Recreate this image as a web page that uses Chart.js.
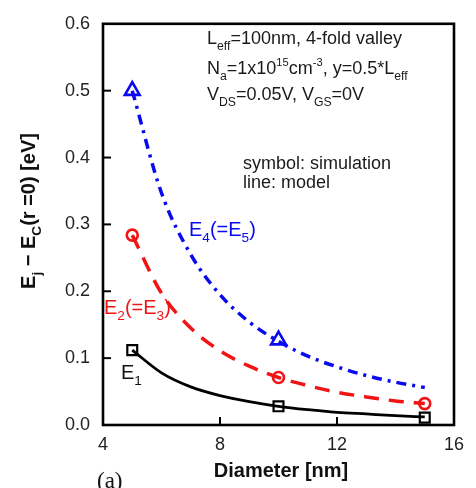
<!DOCTYPE html>
<html>
<head>
<meta charset="utf-8">
<script src="https://cdn.jsdelivr.net/npm/chart.js@4"></script>
<style>
html,body{margin:0;padding:0;background:#fff;}
#wrap{width:476px;height:488px;position:relative;}
</style>
</head>
<body>
<div id="wrap"><canvas id="c" width="476" height="488"></canvas></div>
<script>
// ---- data ----
const simDiameter = [5, 10, 15];
const e1Sim = [0.112, 0.028, 0.011];
const e2Sim = [0.284, 0.071, 0.032];
const e4SimDiameter = [5, 10];
const e4Sim = [0.500, 0.127];
const modelDiameter = [5, 6, 7, 8, 9, 10, 11, 12, 13, 14, 15];
const e1Model = [0.112, 0.078, 0.057, 0.044, 0.035, 0.028, 0.023, 0.019, 0.0165, 0.014, 0.012];
const e2Model = [0.284, 0.197, 0.145, 0.111, 0.088, 0.071, 0.059, 0.049, 0.042, 0.036, 0.032];
const e4Model = [0.500, 0.347, 0.255, 0.195, 0.154, 0.125, 0.103, 0.087, 0.074, 0.064, 0.056];
const xTicks = [4, 8, 12, 16];
const yTicks = [0, 0.1, 0.2, 0.3, 0.4, 0.5, 0.6];

const BLUE = '#0a0af0', RED = '#f01414', BLACK = '#000000';
const pts = (xs, ys) => xs.map((x, i) => ({x: x, y: ys[i]}));

function drawRich(ctx, segs, x, y, size, color, weight) {
  ctx.fillStyle = color;
  ctx.textBaseline = 'alphabetic';
  ctx.textAlign = 'left';
  let cx = x;
  for (const s of segs) {
    let fs = size, dy = 0;
    if (s.sub) { fs = size * 0.68; dy = size * 0.32; }
    if (s.sup) { fs = size * 0.62; dy = -size * 0.42; }
    ctx.font = (weight || '') + ' ' + fs + 'px "Liberation Sans", Arial, sans-serif';
    ctx.fillText(s.t, cx, y + dy);
    cx += ctx.measureText(s.t).width;
  }
  return cx - x;
}
function richWidth(ctx, segs, size, weight) {
  let w = 0;
  for (const s of segs) {
    let fs = size;
    if (s.sub) fs = size * 0.68;
    if (s.sup) fs = size * 0.62;
    ctx.font = (weight || '') + ' ' + fs + 'px "Liberation Sans", Arial, sans-serif';
    w += ctx.measureText(s.t).width;
  }
  return w;
}

const decor = {
  id: 'decor',
  afterDraw(chart) {
    const ctx = chart.ctx;
    const a = chart.chartArea;
    const xs = chart.scales.x, ys = chart.scales.y;
    ctx.save();
    // inner ticks
    ctx.strokeStyle = '#000';
    ctx.lineWidth = 2;
    for (const v of yTicks) {
      if (v <= 0 || v >= 0.6) continue;
      const py = ys.getPixelForValue(v);
      ctx.beginPath(); ctx.moveTo(a.left, py); ctx.lineTo(a.left + 8, py); ctx.stroke();
    }
    for (const v of xTicks) {
      if (v <= 4 || v >= 16) continue;
      const px = xs.getPixelForValue(v);
      ctx.beginPath(); ctx.moveTo(px, a.bottom); ctx.lineTo(px, a.bottom - 8); ctx.stroke();
    }
    // frame
    ctx.lineWidth = 2.6;
    ctx.strokeRect(a.left, a.top, a.right - a.left, a.bottom - a.top);

    // annotations
    const fs = 18;
    drawRich(ctx, [{t:'L'},{t:'eff',sub:1},{t:'=100nm, 4-fold valley'}], 207, 44, fs, '#1a1a1a');
    drawRich(ctx, [{t:'N'},{t:'a',sub:1},{t:'=1x10'},{t:'15',sup:1},{t:'cm'},{t:'-3',sup:1},{t:', y=0.5*L'},{t:'eff',sub:1}], 207, 74, fs, '#1a1a1a');
    drawRich(ctx, [{t:'V'},{t:'DS',sub:1},{t:'=0.05V, V'},{t:'GS',sub:1},{t:'=0V'}], 207, 100, fs, '#1a1a1a');
    drawRich(ctx, [{t:'symbol: simulation'}], 243, 169, fs, '#1a1a1a');
    drawRich(ctx, [{t:'line: model'}], 243, 188, fs, '#1a1a1a');

    drawRich(ctx, [{t:'E'},{t:'4',sub:1},{t:'(=E'},{t:'5',sub:1},{t:')'}], 189, 236, 20, BLUE);
    drawRich(ctx, [{t:'E'},{t:'2',sub:1},{t:'(=E'},{t:'3',sub:1},{t:')'}], 104, 314, 20, RED);
    drawRich(ctx, [{t:'E'},{t:'1',sub:1}], 121, 379, 20, '#111');

    // x title
    const xt = [{t:'Diameter [nm]'}];
    const xw = richWidth(ctx, xt, 20, 'bold');
    drawRich(ctx, xt, 281 - xw / 2, 477, 20, '#111', 'bold');

    // y title (rotated)
    const yt = [{t:'E'},{t:'j',sub:1},{t:' \u2212 E'},{t:'C',sub:1},{t:'(r =0) [eV]'}];
    const yw = richWidth(ctx, yt, 20, 'bold');
    ctx.save();
    ctx.translate(35, 211);
    ctx.rotate(-Math.PI / 2);
    drawRich(ctx, yt, -yw / 2, 0, 20, '#111', 'bold');
    ctx.restore();

    // (a)
    ctx.font = '23px "Liberation Serif", "Times New Roman", serif';
    ctx.fillStyle = '#111';
    ctx.textAlign = 'left';
    ctx.textBaseline = 'alphabetic';
    ctx.fillText('(a)', 97, 488);
    ctx.restore();
  }
};

new Chart(document.getElementById('c'), {
  type: 'line',
  data: {
    datasets: [
      {label: 'E4 model', data: pts(modelDiameter, e4Model), borderColor: BLUE, borderWidth: 3.5, borderDash: [10, 6, 3, 6], pointRadius: 0, cubicInterpolationMode: 'monotone', fill: false},
      {label: 'E2 model', data: pts(modelDiameter, e2Model), borderColor: RED, borderWidth: 3.5, borderDash: [15, 10], pointRadius: 0, cubicInterpolationMode: 'monotone', fill: false},
      {label: 'E1 model', data: pts(modelDiameter, e1Model), borderColor: BLACK, borderWidth: 2.8, pointRadius: 0, cubicInterpolationMode: 'monotone', fill: false},
      {label: 'E4 sim', data: pts(e4SimDiameter, e4Sim), showLine: false, pointStyle: 'triangle', pointRadius: 8.5, borderColor: BLUE, backgroundColor: 'rgba(255,255,255,0)', pointBorderWidth: 2.6},
      {label: 'E2 sim', data: pts(simDiameter, e2Sim), showLine: false, pointStyle: 'circle', pointRadius: 5.5, borderColor: RED, backgroundColor: 'rgba(255,255,255,0)', pointBorderWidth: 2.6},
      {label: 'E1 sim', data: pts(simDiameter, e1Sim), showLine: false, pointStyle: 'rect', pointRadius: 7, borderColor: BLACK, backgroundColor: '#fff', pointBorderWidth: 2.2}
    ]
  },
  options: {
    responsive: false,
    animation: false,
    events: [],
    layout: {padding: {top: 13, right: 22, left: 0, bottom: 0}},
    plugins: {legend: {display: false}, tooltip: {enabled: false}},
    scales: {
      x: {
        type: 'linear', min: 4, max: 16,
        afterFit(s) { s.height = 63; },
        afterBuildTicks(s) { s.ticks = xTicks.map(v => ({value: v})); },
        ticks: {font: {size: 18, family: '"Liberation Sans", Arial, sans-serif'}, color: '#222', padding: 9, maxRotation: 0},
        grid: {display: false, drawTicks: false, tickLength: 0},
        border: {display: false}
      },
      y: {
        type: 'linear', min: 0, max: 0.6,
        afterFit(s) { s.width = 103; },
        afterBuildTicks(s) { s.ticks = yTicks.map(v => ({value: v})); },
        ticks: {font: {size: 18, family: '"Liberation Sans", Arial, sans-serif'}, color: '#222', padding: 13, callback: v => v.toFixed(1)},
        grid: {display: false, drawTicks: false, tickLength: 0},
        border: {display: false}
      }
    }
  },
  plugins: [decor]
});
</script>
</body>
</html>
